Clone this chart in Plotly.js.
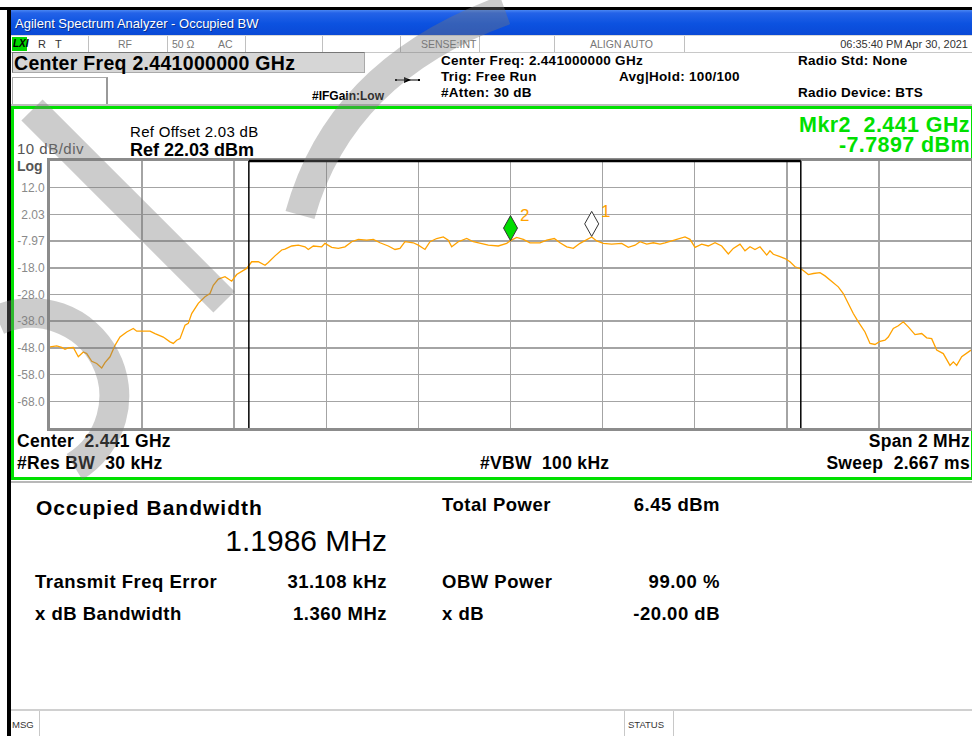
<!DOCTYPE html>
<html><head><meta charset="utf-8">
<script src="https://cdn.plot.ly/plotly-3.0.1.min.js"></script>
<style>
body{margin:0;background:#fff}
#page{position:relative;width:972px;height:736px;overflow:hidden;background:#fff;font-family:'Liberation Sans',Arial,Helvetica,sans-serif;color:#000}
.a{position:absolute;white-space:pre;line-height:0.85}
.bx{position:absolute;box-sizing:border-box}
</style></head><body>
<div id="page"></div>
<script>
// ---------------- data ----------------
const freqMHz = [2440.0000,2440.0145,2440.0254,2440.0326,2440.0397,2440.0506,2440.0615,2440.0723,2440.0797,2440.0906,
2440.1014,2440.1123,2440.1194,2440.1303,2440.1412,2440.1520,2440.1666,2440.1809,2440.1883,2440.2026,
2440.2172,2440.2280,2440.2460,2440.2606,2440.2678,2440.2751,2440.2823,2440.2932,2440.3003,2440.3077,
2440.3220,2440.3366,2440.3474,2440.3546,2440.3655,2440.3800,2440.3946,2440.4054,2440.4163,2440.4271,
2440.4380,2440.4523,2440.4669,2440.4740,2440.4886,2440.5031,2440.5103,2440.5249,2440.5392,2440.5537,
2440.5609,2440.5718,2440.5900,2440.5972,2440.6117,2440.6261,2440.6406,2440.6552,2440.6695,2440.6877,
2440.7021,2440.7166,2440.7346,2440.7492,2440.7600,2440.7709,2440.7889,2440.7998,2440.8143,2440.8252,
2440.8397,2440.8541,2440.8649,2440.8723,2440.8866,2440.9049,2440.9192,2440.9375,2440.9518,2440.9735,
2440.9917,2441.0000,2441.0134,2441.0278,2441.0423,2441.0641,2441.0786,2441.0951,2441.1075,2441.1221,
2441.1364,2441.1509,2441.1655,2441.1763,2441.1872,2441.2015,2441.2198,2441.2415,2441.2558,2441.2704,
2441.2812,2441.2958,2441.3101,2441.3246,2441.3355,2441.3501,2441.3644,2441.3789,2441.3898,2441.4007,
2441.4152,2441.4295,2441.4441,2441.4586,2441.4730,2441.4838,2441.4984,2441.5092,2441.5201,2441.5309,
2441.5418,2441.5564,2441.5635,2441.5707,2441.5852,2441.5961,2441.6069,2441.6178,2441.6324,2441.6467,
2441.6576,2441.6721,2441.6830,2441.6975,2441.7118,2441.7227,2441.7335,2441.7444,2441.7553,2441.7698,
2441.7807,2441.7915,2441.8024,2441.8132,2441.8204,2441.8313,2441.8421,2441.8530,2441.8638,2441.8784,
2441.8929,2441.9038,2441.9146,2441.9255,2441.9398,2441.9544,2441.9616,2441.9689,2441.9798,2441.9907,2442.0000];
const powerDBm = [-47.6,-47.2,-47.8,-48.5,-48.0,-47.8,-51.3,-49.5,-50.1,-53.0,
-53.8,-55.5,-53.5,-51.3,-47.0,-43.9,-42.0,-40.7,-41.7,-41.7,
-41.7,-42.6,-43.9,-45.7,-46.3,-45.1,-44.5,-39.5,-38.8,-35.1,
-31.3,-28.8,-27.6,-24.5,-22.2,-21.3,-23.0,-20.5,-19.5,-18.2,
-15.7,-15.7,-17.0,-16.0,-13.5,-11.3,-11.0,-9.8,-9.5,-10.1,
-11.1,-9.8,-10.1,-8.8,-10.3,-10.7,-10.1,-8.2,-7.3,-7.6,
-7.3,-8.6,-9.8,-11.1,-10.7,-8.2,-8.6,-9.5,-11.1,-8.2,
-7.0,-6.4,-7.6,-10.1,-8.2,-7.0,-8.2,-8.8,-9.5,-9.8,
-8.8,-7.8,-6.6,-7.3,-8.6,-8.6,-7.6,-7.0,-8.6,-10.1,
-10.7,-8.8,-7.3,-6.4,-7.9,-8.8,-9.1,-8.8,-10.3,-9.5,
-8.2,-9.1,-8.6,-9.1,-8.6,-7.9,-7.0,-6.4,-7.3,-10.3,
-9.1,-9.8,-8.6,-9.8,-12.8,-10.7,-9.1,-11.6,-10.1,-11.1,
-10.1,-13.2,-11.6,-12.9,-13.8,-14.5,-15.7,-17.6,-18.5,-20.5,
-20.1,-19.8,-21.0,-23.2,-25.1,-27.6,-31.3,-35.1,-38.2,-42.0,
-46.3,-46.7,-45.5,-45.1,-43.9,-40.7,-39.7,-38.2,-40.1,-43.0,
-42.6,-44.2,-44.5,-48.8,-50.1,-54.5,-53.2,-54.5,-51.3,-50.1,-48.8];
const yTickVals = [12.03,2.03,-7.97,-17.97,-27.97,-37.97,-47.97,-57.97,-67.97];
const yTickText = ['12.0','2.03','-7.97','-18.0','-28.0','-38.0','-48.0','-58.0','-68.0'];
const refLevel = 22.03, dbPerDiv = 10, centerMHz = 2441.0, spanMHz = 2.0;
const obwMHz = 1.1986, freqErrorMHz = 0.031108;
const markerNames = ['2','1'];
const markerFreq = [2441.000, 2441.1763];
const markerPower = [-7.7897, -6.2];
const markerFill = ['#00dd00','#ffffff'];

// ---------------- chrome ----------------
const page = document.getElementById('page');
const LH = 0.85;
function B(l,t,w,h,css){const d=document.createElement('div');d.className='bx';d.style.left=l+'px';d.style.top=t+'px';d.style.width=w+'px';d.style.height=h+'px';d.style.cssText+=css||'';page.appendChild(d);return d;}
function T(x,base,text,fs,o){o=o||{};const d=document.createElement('div');d.className='a';d.textContent=text;d.style.fontSize=fs+'px';
 d.style.top=(base-((LH-1.117)/2+0.905)*fs)+'px';
 if(o.right)d.style.right=(972-x)+'px';else d.style.left=x+'px';
 if(o.bold)d.style.fontWeight='bold'; if(o.color)d.style.color=o.color; if(o.ls)d.style.letterSpacing=o.ls+'px';
 if(o.family)d.style.fontFamily=o.family; if(o.italic)d.style.fontStyle='italic'; if(o.shadow)d.style.textShadow=o.shadow;
 page.appendChild(d);return d;}

// window border + title bar
B(0,7,972,3,'background:#000');
B(7,7,4,729,'background:#000');
B(11,10,961,25,'background:linear-gradient(to bottom,#4a86f2 0%,#2463e8 12%,#0c52e0 55%,#0a49d6 100%)');
T(15,28,'Agilent Spectrum Analyzer - Occupied BW',13,{color:'#fff',shadow:'1px 1px 0 #0a2f8a'});
// status row
B(11,35,961,18,'background:#fff;border-bottom:1px solid #c8c8c8;border-top:1px solid #d8d8d8');
[88,167,245,322,400,479,554,684].forEach(x=>B(x,36,1,16,'background:#c0c0c0'));
B(12,37,15,14,'background:#00d800');
T(13,48,'LXI',10,{bold:true,italic:true});
T(38,48,'R',11,{color:'#333'}); T(55,48,'T',11,{color:'#333'});
T(118,48,'RF',10.5,{color:'#777'});
T(172,48,'50 Ω',10.5,{color:'#777'}); T(218,48,'AC',10.5,{color:'#777'});
T(421,48,'SENSE:INT',10.5,{color:'#777'});
T(590,48,'ALIGN AUTO',10.5,{color:'#777'});
T(968,48,'06:35:40 PM Apr 30, 2021',11,{right:true,color:'#333'});
// center freq box
B(12,52,353,21,'background:#d6d6d6;border:1px solid #777;border-right-color:#aaa;border-bottom-color:#aaa');
T(14,70,'Center Freq 2.441000000 GHz',19.5,{bold:true,ls:0.3});
B(12,77,96,29,'background:#fff;border:1px solid #aaa;border-right:2px solid #999;border-bottom:2px solid #999');
T(312,100,'#IFGain:Low',12,{bold:true});
const mid={bold:true,ls:0.3};
T(441,65,'Center Freq: 2.441000000 GHz',13.5,mid);
T(441,81,'Trig: Free Run',13.5,mid);
T(441,97,'#Atten: 30 dB',13.5,mid);
T(619,81,'Avg|Hold: 100/100',13.5,mid);
T(798,65,'Radio Std: None',13.5,mid);
T(798,97,'Radio Device: BTS',13.5,mid);
// arrow glyph
const ar=document.createElementNS('http://www.w3.org/2000/svg','svg');
ar.setAttribute('width','26');ar.setAttribute('height','8');ar.style.cssText='position:absolute;left:395px;top:76px';
ar.innerHTML='<line x1="1" y1="4" x2="24" y2="4" stroke="#000" stroke-width="1"/><polygon points="9,1 16,4 9,7" fill="#000"/><rect x="0" y="3" width="2" height="2" fill="#000"/><rect x="23" y="3" width="2" height="2" fill="#000"/>';
page.appendChild(ar);
B(11,104,961,2,'background:#bdbdbd');
// green frame
B(11,106,963,374,'border:3px solid #00e000;background:#fff');
// labels inside
T(130,138,'Ref Offset 2.03 dB',15,{ls:0.3});
T(130,157,'Ref 22.03 dBm',18,{bold:true});
T(17,155,'10 dB/div',15,{color:'#555',ls:0.5});
T(17,172,'Log',14,{bold:true,color:'#555'});
// marker readout: one two-line block
const mk=document.createElement('div');
mk.style.cssText='position:absolute;right:2px;top:114.5px;white-space:pre;text-align:right;font-size:21.5px;line-height:20px;font-weight:bold;color:#00e000;letter-spacing:0.4px';
mk.textContent='Mkr2  2.441 GHz\n-7.7897 dBm';
page.appendChild(mk);
const lo={bold:true,ls:0.3};
T(17,448,'Center  2.441 GHz',17.5,lo);
T(17,470,'#Res BW  30 kHz',17.5,lo);
T(480,470,'#VBW  100 kHz',17.5,lo);
T(970,448,'Span 2 MHz',17.5,Object.assign({right:true},lo));
T(970,470,'Sweep  2.667 ms',17.5,Object.assign({right:true},lo));
// lower panel
B(11,481,961,2,'background:#b8b8b8');
T(36,515,'Occupied Bandwidth',21,{bold:true,ls:1.0});
T(387,551,'1.1986 MHz',30,{right:true});
const pv={bold:true,ls:0.5};
T(35,588,'Transmit Freq Error',18.5,pv);
T(387,588,'31.108 kHz',18.5,Object.assign({right:true},pv));
T(35,620,'x dB Bandwidth',18.5,pv);
T(387,620,'1.360 MHz',18.5,Object.assign({right:true},pv));
T(442,511,'Total Power',18.5,pv);
T(720,511,'6.45 dBm',18.5,Object.assign({right:true},pv));
T(442,588,'OBW Power',18.5,pv);
T(720,588,'99.00 %',18.5,Object.assign({right:true},pv));
T(442,620,'x dB',18.5,pv);
T(720,620,'-20.00 dB',18.5,Object.assign({right:true},pv));
// bottom status bar
B(11,709,961,2,'background:#d0d0d0');
B(39,711,1,25,'background:#c8c8c8');
T(12,728,'MSG',9.5,{color:'#333'});
B(624,711,1,25,'background:#c8c8c8'); B(673,711,1,25,'background:#c8c8c8');
T(628,728,'STATUS',9.5,{color:'#333'});

// ---------------- plot ----------------
const pd=document.createElement('div');pd.id='plot';pd.style.cssText='position:absolute;left:12px;top:150px;width:960px;height:290px';page.appendChild(pd);
const f0=centerMHz-spanMHz/2, f1=centerMHz+spanMHz/2;
const obwLo=centerMHz+freqErrorMHz-obwMHz/2, obwHi=centerMHz+freqErrorMHz+obwMHz/2;
const shapes=[
 {type:'line',xref:'x',yref:'paper',x0:obwLo,x1:obwLo,y0:0,y1:1,line:{color:'#000',width:1.5}},
 {type:'line',xref:'x',yref:'paper',x0:obwHi,x1:obwHi,y0:0,y1:1,line:{color:'#000',width:1.5}},
 {type:'line',xref:'x',yref:'paper',x0:obwLo,x1:obwHi,y0:1,y1:1,line:{color:'#000',width:2.5}}
];
const ann=[];
markerNames.forEach((n,i)=>{
 shapes.push({type:'path',xref:'x',yref:'y',xsizemode:'pixel',ysizemode:'pixel',xanchor:markerFreq[i],yanchor:markerPower[i],
  path:'M0,0 L-7,12.5 L0,25 L7,12.5 Z',fillcolor:markerFill[i],line:{color:'#333',width:1}});
 ann.push({x:markerFreq[i],y:markerPower[i],xref:'x',yref:'y',text:n,showarrow:false,xanchor:'left',yanchor:'middle',xshift:7,yshift:25,
  font:{family:'Liberation Sans, Arial',size:17,color:'#ffa200'}});
});
Plotly.newPlot(pd,[{x:freqMHz,y:powerDBm,type:'scatter',mode:'lines',line:{color:'#ffa200',width:1.3},hoverinfo:'skip'}],{
 width:960,height:290,margin:{l:38,r:1,t:11,b:12,pad:0},
 paper_bgcolor:'rgba(0,0,0,0)',plot_bgcolor:'#fff',showlegend:false,
 xaxis:{range:[f0,f1],tick0:f0,dtick:spanMHz/10,showticklabels:false,ticks:'',showgrid:true,gridcolor:'#a4a4a4',gridwidth:1.5,
   showline:true,mirror:true,linecolor:'#8c8c8c',linewidth:3,zeroline:false,fixedrange:true,automargin:false},
 yaxis:{range:[refLevel-10*dbPerDiv,refLevel],tickvals:yTickVals,ticktext:yTickText,ticks:'',showgrid:true,gridcolor:'#a4a4a4',gridwidth:1.5,
   showline:true,mirror:true,linecolor:'#8c8c8c',linewidth:3,zeroline:false,fixedrange:true,automargin:false,
   tickfont:{family:'Liberation Sans, Arial',size:12,color:'#8a8a8a'}},
 shapes:shapes,annotations:ann
},{staticPlot:true,displayModeBar:false});

// ---------------- watermark overlay ----------------
const wm=document.createElementNS('http://www.w3.org/2000/svg','svg');
wm.setAttribute('width','972');wm.setAttribute('height','736');wm.style.cssText='position:absolute;left:0;top:0;pointer-events:none';
wm.innerHTML='<g fill="none" stroke="rgba(120,120,120,0.38)" stroke-width="30">'+
 '<line x1="32" y1="110" x2="224" y2="302"/>'+
 '<path d="M -2 320 A 83 83 0 0 1 74.5 466.9"/>'+
 '<path d="M 300 215 Q 340 70 505 10"/>'+
 '</g>';
page.appendChild(wm);
</script>
</body></html>
